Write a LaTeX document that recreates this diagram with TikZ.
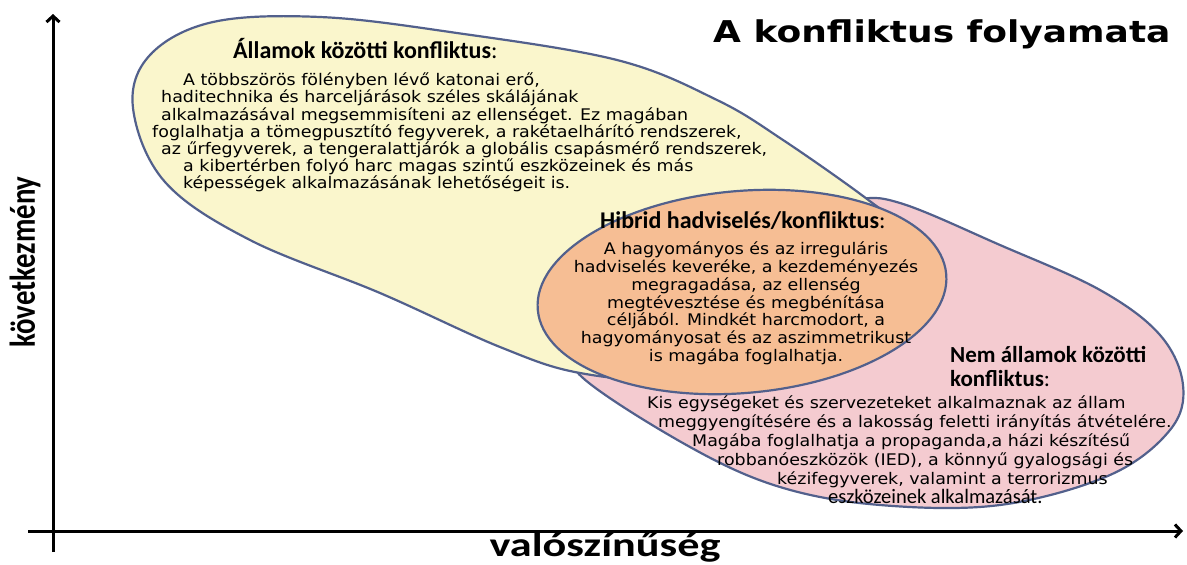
\documentclass[tikz,border=0pt]{standalone}
\usepackage{fontspec}
\usepackage{graphicx}
\setmainfont{DejaVu Sans}
\newfontfamily\calfont{Carlito}
\usetikzlibrary{arrows.meta}
\definecolor{yfill}{RGB}{250,246,204}
\definecolor{pfill}{RGB}{244,203,208}
\definecolor{ofill}{RGB}{246,190,148}
\definecolor{edgec}{RGB}{82,96,140}
\newcommand{\hstretch}[1]{\scalebox{1.09}[1]{#1}}
\begin{document}
\begin{tikzpicture}[x=1pt,y=-1pt,
  blob/.style={draw=edgec,line width=2.2pt},
  body/.style={inner sep=0pt,anchor=base west,font=\fontsize{16}{16}\selectfont},
  cbody/.style={inner sep=0pt,anchor=base,font=\fontsize{16}{16}\selectfont},
  hd/.style={inner sep=0pt,anchor=base west,font=\calfont\fontsize{24}{21}\selectfont},
  axisline/.style={line width=3pt,-{Straight Barb[length=6pt,width=13pt]}}]
\useasboundingbox (0,0) rectangle (1187,565);
\fill[white] (0,0) rectangle (1187,565);
% pink (bottom layer)
\filldraw[blob,fill=pfill] plot[smooth cycle,tension=0.6] coordinates {(583,378) (690,447) (780,487) (880,505) (1000,505) (1110,475) (1170,430) (1183,385) (1160,335) (1100,290) (1000,245) (900,203) (850,200) (760,215) (650,250) (585,300) (570,340)};
% yellow
\filldraw[blob,fill=yfill] plot[smooth cycle,tension=0.6] coordinates {(133,108) (150,55) (213,22) (320,17) (450,32) (617,60) (717,100) (783,140) (867,199) (895,225) (905,270) (860,320) (780,360) (680,380) (580,373) (500,347) (380,293) (250,240) (165,182)};
% orange
\filldraw[blob,fill=ofill,rotate around={5:(742,292)}] (742,292) ellipse [x radius=205pt,y radius=101pt];
% axes
\coordinate (yo) at (53,552); \coordinate (ye) at (53,14);
\coordinate (xo) at (28,531); \coordinate (xe) at (1183,531);
\draw[axisline] (yo) -- (ye);
\draw[axisline] (xo) -- (xe);
% title and axis labels
\node[inner sep=0pt,anchor=base west,font=\bfseries\fontsize{30}{30}\selectfont] (title) at (713,42) {\scalebox{1.2}[1]{A konfliktus folyamata}};
\node[inner sep=0pt,rotate=90,font=\calfont\bfseries\fontsize{36}{36}\selectfont] (ylab) at (25,262) {\scalebox{0.8}[1]{következmény}};
\node[inner sep=0pt,anchor=base,font=\calfont\bfseries\fontsize{34}{34}\selectfont] (xlab) at (605,556) {\scalebox{1.3}[1]{valószínűség}};
% yellow text
\node[hd] (yh) at (233,58) {\textbf{Államok közötti konfliktus}:};
\node[body] (y1) at (183,85.6) {\hstretch{A többszörös fölényben lévő katonai erő,}};
\node[body] (y2) at (161,102.8) {\hstretch{haditechnika és harceljárások széles skálájának}};
\node[body] (y3) at (161,120) {\hstretch{alkalmazásával megsemmisíteni az ellenséget. Ez magában}};
\node[body] (y4) at (152,137.2) {\hstretch{foglalhatja a tömegpusztító fegyverek, a rakétaelhárító rendszerek,}};
\node[body] (y5) at (161,154.4) {\hstretch{az űrfegyverek, a tengeralattjárók a globális csapásmérő rendszerek,}};
\node[body] (y6) at (183,171.6) {\hstretch{a kibertérben folyó harc magas szintű eszközeinek és más}};
\node[body] (y7) at (183,188.8) {\hstretch{képességek alkalmazásának lehetőségeit is.}};
% orange text
\node[hd] (oh) at (600,228) {\textbf{Hibrid hadviselés/konfliktus}:};
\node[cbody] (o1) at (746,254.6) {\hstretch{A hagyományos és az irreguláris}};
\node[cbody] (o2) at (746,272.4) {\hstretch{hadviselés keveréke, a kezdeményezés}};
\node[cbody] (o3) at (746,290.2) {\hstretch{megragadása, az ellenség}};
\node[cbody] (o4) at (746,308) {\hstretch{megtévesztése és megbénítása}};
\node[cbody] (o5) at (746,325.8) {\hstretch{céljából. Mindkét harcmodort, a}};
\node[cbody] (o6) at (746,343.6) {\hstretch{hagyományosat és az aszimmetrikust}};
\node[cbody] (o7) at (746,361.4) {\hstretch{is magába foglalhatja.}};
% pink text
\node[hd,font=\calfont\fontsize{23}{23.5}\selectfont,align=left] (ph) at (950,386) {\textbf{Nem államok közötti}\\\textbf{konfliktus}:};
\node[body] (p1) at (647,408) {\hstretch{Kis egységeket és szervezeteket alkalmaznak az állam}};
\node[body] (p2) at (658,427.6) {\hstretch{meggyengítésére és a lakosság feletti irányítás átvételére.}};
\node[body] (p3) at (692,446.6) {\hstretch{Magába foglalhatja a propaganda,a házi készítésű}};
\node[body] (p4) at (717,465.6) {\hstretch{robbanóeszközök (IED), a könnyű gyalogsági és}};
\node[body] (p5) at (777,484.6) {\hstretch{kézifegyverek, valamint a terrorizmus}};
\node[inner sep=0pt,anchor=base west,font=\calfont\fontsize{20.5}{20}\selectfont] (p6) at (828,503) {eszközeinek alkalmazását.};
\end{tikzpicture}
\end{document}
